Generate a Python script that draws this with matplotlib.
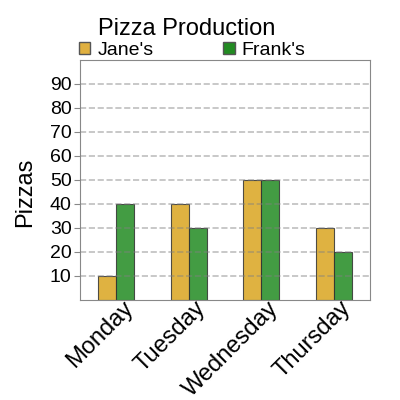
import numpy as np
import matplotlib
matplotlib.use("Agg")
import matplotlib.pyplot as plt
from matplotlib.patches import Patch

plt.rcParams['font.family'] = ['Liberation Sans', 'DejaVu Sans']

days = ["Monday", "Tuesday", "Wednesday", "Thursday"]
jane = [10, 40, 50, 30]
frank = [40, 30, 50, 20]
yticks = [10, 20, 30, 40, 50, 60, 70, 80, 90]

jane_color = "#DAA520"
frank_color = "#228B22"

fig = plt.figure(figsize=(4, 4), dpi=100)
ax = fig.add_axes([0.2, 0.25, 0.725, 0.6])

x = np.arange(len(days))
w = 0.25
ax.bar(x - w / 2, jane, w, color=jane_color, alpha=0.85, edgecolor="#333333", linewidth=0.8)
ax.bar(x + w / 2, frank, w, color=frank_color, alpha=0.85, edgecolor="#333333", linewidth=0.8)

ax.set_xlim(-0.5, 3.5)
ax.set_ylim(0, 100)
ax.set_yticks(yticks)
# labels end a little right of each group's centre
ax.set_xticks(x + 0.08)
ax.set_xticklabels(days, rotation=45, ha="right", rotation_mode="anchor", fontsize=17)
ax.tick_params(axis="y", labelsize=14, length=4, color="#888888", pad=2)
ax.tick_params(axis="x", length=0, pad=-2)
ax.set_axisbelow(False)
ax.grid(axis="y", color="gray", alpha=0.5, linestyle="--", linewidth=1.2)
for s in ax.spines.values():
    s.set_color("#888888")

ax.set_ylabel("Pizzas", fontsize=17)
ax.yaxis.set_label_coords(-0.15, 0.45)
fig.text(0.467, 0.9, "Pizza Production", fontsize=17, ha="center", va="bottom")

handles = [Patch(facecolor="#E0B040", edgecolor="#555555", label="Jane's"),
           Patch(facecolor=frank_color, edgecolor="#555555", label="Frank's")]
fig.legend(handles=handles, loc="lower left", bbox_to_anchor=(0.197, 0.853), ncol=2,
           frameon=False, fontsize=14, handlelength=0.6, handleheight=0.6,
           handletextpad=0.35, columnspacing=3.6, borderpad=0, borderaxespad=0)

fig.savefig("out.png", dpi=100)
